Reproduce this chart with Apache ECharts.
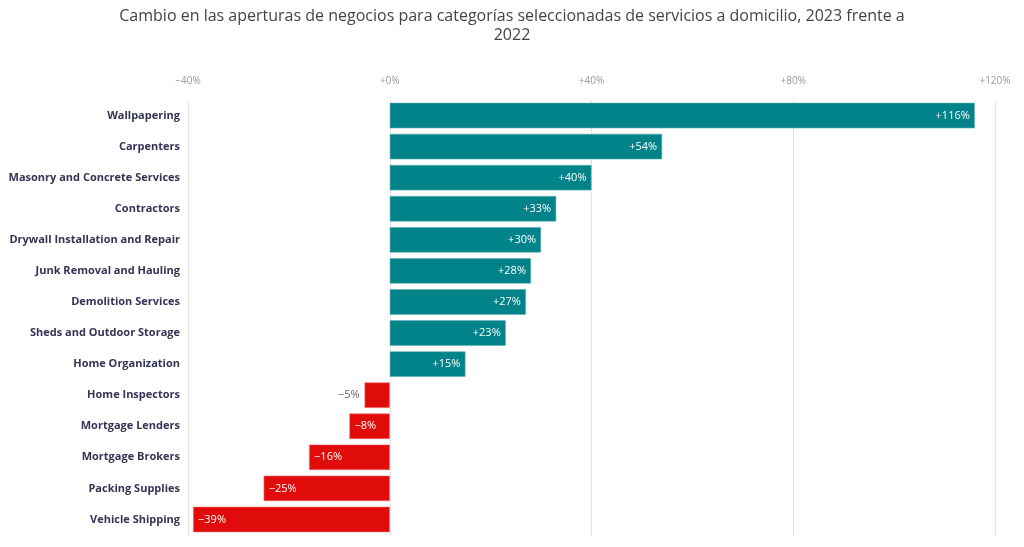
<!DOCTYPE html>
<html><head><meta charset="utf-8">
<script src="https://cdn.jsdelivr.net/npm/echarts@6/dist/echarts.min.js"></script>
<style>html,body{margin:0;padding:0;background:#fff}#c{width:1024px;height:547px}</style>
</head><body><div id="c"></div>
<script>
const titleText = 'Cambio en las aperturas de negocios para categorías seleccionadas de servicios a domicilio, 2023 frente a\n2022';
const categories = ['Wallpapering','Carpenters','Masonry and Concrete Services','Contractors','Drywall Installation and Repair','Junk Removal and Hauling','Demolition Services','Sheds and Outdoor Storage','Home Organization','Home Inspectors','Mortgage Lenders','Mortgage Brokers','Packing Supplies','Vehicle Shipping'];
const values = [116,54,40,33,30,28,27,23,15,-5,-8,-16,-25,-39];
const posColor = '#02838a';
const negColor = '#e00b0b';
const fmt = v => (v < 0 ? '\u2212' + Math.abs(v) : '+' + v) + '%';

const chart = echarts.init(document.getElementById('c'));
chart.setOption({
  animation:false,
  title:{text:titleText,left:'center',top:2,textStyle:{fontFamily:'Open Sans',fontSize:16,fontWeight:'normal',color:'#444',lineHeight:19}},
  grid:{left:188,right:29,top:100,bottom:12},
  xAxis:{type:'value',position:'top',min:-40,max:120,interval:40,
    axisLine:{show:false},axisTick:{show:false},
    axisLabel:{formatter:fmt,color:'#999',fontFamily:'Open Sans',fontSize:10,margin:14},
    splitLine:{lineStyle:{type:'dotted',color:'#ccc'}}},
  yAxis:{type:'category',data:categories,inverse:true,
    axisLine:{show:false},axisTick:{show:false},
    axisLabel:{color:'#333355',fontFamily:'Open Sans',fontWeight:'bold',fontSize:11,margin:8}},
  series:[{type:'bar',barCategoryGap:'18%',
    data:values.map(v=>{
      const o={value:v,itemStyle:{color:v<0?negColor:posColor,borderColor:v<0?'#f07070':'#5fb0b4',borderWidth:0.6}};
      if(v<0) o.label={position:'insideLeft'};
      if(Math.abs(v)<8) o.label={position:'left',color:'#666'};
      return o;
    }),
    label:{show:true,position:'insideRight',formatter:p=>fmt(p.value),color:'#fff',fontFamily:'Open Sans',fontSize:11,distance:5},
  }]
});
</script></body></html>
